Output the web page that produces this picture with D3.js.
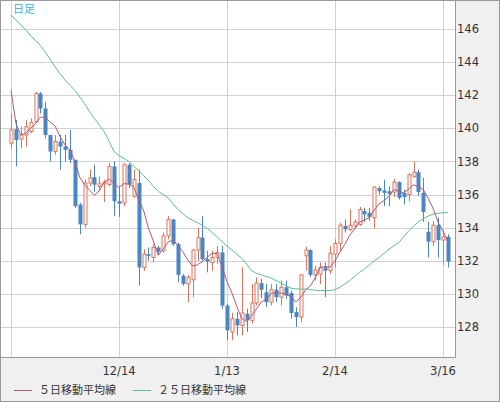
<!DOCTYPE html>
<html>
<head>
<meta charset="utf-8">
<script src="https://cdn.jsdelivr.net/npm/d3@7"></script>
<style>
html,body{margin:0;padding:0;background:#fff;}
svg{display:block;}
</style>
</head>
<body>
<svg id="chart" width="500" height="402"></svg>
<script>
const dates = [
"11/14","11/15","11/16","11/17","11/18",
"11/21","11/22","11/23","11/24","11/25",
"11/28","11/29","11/30","12/1","12/2",
"12/5","12/6","12/7","12/8","12/9",
"12/12","12/13","12/14","12/15","12/16",
"12/19","12/20","12/21","12/22","12/23",
"12/26","12/27","12/28","12/29","12/30",
"1/2","1/3","1/4","1/5","1/6",
"1/9","1/10","1/11","1/12","1/13",
"1/16","1/17","1/18","1/19","1/20",
"1/23","1/24","1/25","1/26","1/27",
"1/30","1/31","2/1","2/2","2/3",
"2/6","2/7","2/8","2/9","2/10",
"2/13","2/14","2/15","2/16","2/17",
"2/20","2/21","2/22","2/23","2/24",
"2/27","2/28","3/1","3/2","3/3",
"3/6","3/7","3/8","3/9","3/10",
"3/13","3/14","3/15","3/16","3/17"];

const open = [
139.1,139.95,139.35,139.6,139.8,
140.4,142.1,141.2,139.6,138.6,
139.2,138.9,138.7,138.1,135.4,
134.2,136.7,137.05,136.5,136.65,
136.6,137.7,135.6,135.5,137.8,
135.9,136.7,131.6,132.4,132.2,
132.8,132.6,133.5,134.5,133.0,
131.1,130.6,130.85,132.65,133.4,
132.1,131.9,132.2,132.5,129.3,
127.7,128.5,128.1,128.8,128.4,
129.45,130.65,130.1,129.5,130.25,
129.8,130.4,130.05,128.9,128.6,
132.3,132.65,131.15,131.2,131.6,
131.4,132.4,133.05,134.1,133.9,
134.1,134.2,135.0,134.9,134.6,
136.4,136.25,136.2,136.15,136.75,
136.1,136.0,137.1,137.35,136.1,
133.75,133.15,134.15,133.25,133.45];

const high = [
140.9,140.5,140.1,140.5,140.6,
142.2,142.2,141.6,139.6,139.6,
139.6,139.6,139.9,138.1,135.5,
136.9,137.5,137.8,137.1,136.9,
137.9,138.0,136.5,137.9,137.9,
137.5,137.5,132.7,132.8,133.0,
132.9,133.7,134.7,134.5,133.1,
131.2,131.15,132.7,134.0,134.7,
132.6,132.6,132.9,132.9,129.4,
128.85,128.9,131.6,129.1,130.6,
131.0,130.9,130.6,130.6,130.6,
130.8,130.8,130.2,129.2,131.2,
132.85,132.7,131.7,131.9,131.9,
132.9,133.3,134.3,134.5,135.1,
134.5,135.25,135.2,135.2,136.5,
136.5,136.9,136.5,136.95,136.8,
136.3,137.3,138.0,137.5,137.0,
134.35,134.4,134.6,133.85,133.6];

const low = [
138.8,137.7,138.8,138.9,139.7,
140.3,140.9,139.4,138.0,138.4,
137.5,138.0,137.9,135.2,133.6,
134.0,136.5,136.15,136.2,135.55,
136.5,134.7,134.65,135.3,136.4,
135.8,130.5,131.4,132.0,131.9,
132.4,132.5,133.3,132.9,130.7,
130.5,129.5,129.8,132.0,132.0,
131.3,131.4,131.8,129.1,127.2,
127.2,127.5,127.5,127.7,128.2,
129.3,129.75,129.2,129.3,129.5,
129.3,129.7,128.5,128.0,128.3,
131.4,131.0,130.8,130.6,129.8,
131.2,131.6,132.6,133.7,133.8,
133.95,134.1,134.35,134.4,133.95,
136.0,135.3,135.3,135.85,135.7,
135.4,135.6,137.0,135.9,134.35,
132.2,132.9,132.2,131.75,131.6];

const close = [
139.9,139.3,139.6,140.1,140.35,
142.1,141.2,139.6,138.6,139.2,
138.9,138.7,138.1,135.3,134.2,
136.7,137.0,136.6,136.65,136.75,
137.7,135.6,135.45,137.8,136.6,
136.9,131.6,132.4,132.3,132.8,
132.55,133.5,134.5,133.0,131.15,
130.6,131.0,132.65,133.4,132.1,
131.95,132.2,132.5,129.3,127.8,
128.5,128.1,128.85,128.4,129.45,
130.65,130.25,129.5,130.25,129.8,
130.4,129.9,128.85,128.6,131.15,
132.65,131.15,131.45,131.6,131.4,
132.45,133.05,134.15,133.9,134.15,
134.35,135.1,134.8,134.65,136.45,
136.2,136.1,136.05,136.75,135.8,
135.85,137.2,137.35,136.15,134.95,
133.15,134.15,133.25,133.45,131.95];

const ma5 = [
142.3,140.3,139.6,139.7,140.0,
140.29,140.67,140.67,140.37,140.14,
139.5,139.0,138.7,138.04,137.04,
136.6,136.26,135.96,136.23,136.74,
136.94,136.66,136.43,136.66,136.63,
136.47,135.67,135.06,133.96,133.2,
132.33,132.71,133.13,133.27,132.94,
132.55,132.05,131.68,131.76,131.95,
132.22,132.46,132.43,131.61,130.75,
130.06,129.24,128.51,128.33,128.66,
129.09,129.52,129.65,130.02,130.09,
130.04,129.97,129.84,129.51,129.78,
130.23,130.48,131.0,131.6,131.65,
131.61,131.99,132.53,132.99,133.54,
133.92,134.33,134.46,134.61,135.07,
135.44,135.64,135.89,136.31,136.18,
136.11,136.33,136.59,136.47,136.3,
135.76,135.15,134.33,133.79,133.19];

const ma25 = [
146.85,146.55,146.25,145.95,145.6,
145.3,145.0,144.6,144.15,143.7,
143.3,142.92,142.6,142.3,141.9,
141.5,141.0,140.6,140.2,139.8,
139.2,138.6,138.35,138.2,138.0,
137.7,137.45,137.15,136.85,136.5,
136.2,136.0,135.8,135.45,135.1,
134.85,134.6,134.45,134.3,134.15,
133.95,133.7,133.45,133.15,132.9,
132.65,132.4,132.15,131.8,131.4,
131.25,131.15,131.05,130.95,130.8,
130.65,130.5,130.35,130.3,130.3,
130.3,130.25,130.22,130.2,130.2,
130.2,130.25,130.4,130.6,130.8,
131.05,131.3,131.5,131.75,132.0,
132.2,132.45,132.7,132.9,133.1,
133.45,133.8,134.1,134.35,134.55,
134.7,134.82,134.87,134.9,134.92];

const yTicks = [128,130,132,134,136,138,140,142,144,146];
const gridDates = ["11/14","12/14","1/13","2/14","3/16"];
const tickLabels = ["12/14","1/13","2/14","3/16"];
const title = "日足";
const legendNames = ["５日移動平均線","２５日移動平均線"];

const W = 500, H = 402;
const plotR = 455, plotB = 357;
const svg = d3.select("#chart");

const x = d3.scalePoint().domain(dates).range([11, 447.9]);
const y = d3.scaleLinear().domain([128,146]).range([327,29]);

// backgrounds
svg.append("rect").attr("x",0).attr("y",0).attr("width",W).attr("height",H).attr("fill","#f0f0f0");
svg.append("rect").attr("x",0.5).attr("y",0.5).attr("width",plotR).attr("height",plotB).attr("fill","#fff");

// grid
const grid = svg.append("g");
grid.selectAll("line.h").data(yTicks).join("line")
  .attr("x1",1).attr("x2",plotR).attr("y1",d=>Math.round(y(d))+0.5).attr("y2",d=>Math.round(y(d))+0.5)
  .attr("stroke","#d2d2d2").attr("stroke-width",1);
grid.selectAll("line.v").data(gridDates).join("line")
  .attr("x1",d=>Math.round(x(d))+0.5).attr("x2",d=>Math.round(x(d))+0.5).attr("y1",1).attr("y2",plotB)
  .attr("stroke","#d2d2d2").attr("stroke-width",1);

// candles
const data = dates.map((d,i)=>({d, o:open[i], h:high[i], l:low[i], c:close[i]}));
const upCol = "#e0735c", dnCol = "#4a86bf";
const cg = svg.append("g");
cg.selectAll("line.w").data(data).join("line")
  .attr("x1",d=>Math.round(x(d.d))+0.5).attr("x2",d=>Math.round(x(d.d))+0.5)
  .attr("y1",d=>y(d.h)).attr("y2",d=>y(d.l))
  .attr("stroke",d=>d.c>=d.o?upCol:dnCol).attr("stroke-width",1);
cg.selectAll("rect.b").data(data).join("rect")
  .attr("x",d=>d.c>=d.o?Math.round(x(d.d))-1:Math.round(x(d.d))-1.5)
  .attr("width",d=>d.c>=d.o?3:4)
  .attr("y",d=>y(Math.max(d.o,d.c)))
  .attr("height",d=>Math.max(1,Math.abs(y(d.o)-y(d.c))))
  .attr("fill",d=>d.c>=d.o?"#fff":dnCol)
  .attr("stroke",d=>d.c>=d.o?upCol:"none")
  .attr("stroke-width",1);

// moving averages
const line = d3.line().x((v,i)=>x(dates[i])).y(v=>y(v)).curve(d3.curveLinear);
svg.append("path").datum(ma25).attr("d",line).attr("fill","none").attr("stroke","#5cc090").attr("stroke-width",1);
svg.append("path").datum(ma5).attr("d",line).attr("fill","none").attr("stroke","#b25873").attr("stroke-width",1);

// plot border
svg.append("line").attr("x1",plotR+0.5).attr("x2",plotR+0.5).attr("y1",0).attr("y2",plotB+0.5).attr("stroke","#999");
svg.append("line").attr("x1",0).attr("x2",plotR+0.5).attr("y1",plotB+0.5).attr("y2",plotB+0.5).attr("stroke","#999");
svg.append("rect").attr("x",0.5).attr("y",0.5).attr("width",W-1).attr("height",H-1).attr("fill","none").attr("stroke","#999");

// y axis labels
svg.append("g").selectAll("text").data(yTicks).join("text")
  .attr("x",457).attr("y",d=>y(d)).attr("dy","0.36em")
  .attr("font-family","DejaVu Sans, sans-serif").attr("font-size","11.5px").attr("fill","#333")
  .text(d=>d);

// x axis labels
svg.append("g").selectAll("text").data(tickLabels).join("text")
  .attr("x",d=>x(d)).attr("y",371).attr("dy","0.36em").attr("text-anchor","middle")
  .attr("font-family","DejaVu Sans, sans-serif").attr("font-size","11.5px").attr("fill","#333")
  .text(d=>d);

// title
svg.append("text").attr("x",13).attr("y",9).attr("dy","0.36em")
  .attr("font-family","Noto Sans CJK JP, sans-serif").attr("font-size","11px").attr("fill","#3aaee0")
  .text(title);

// legend
const lg = svg.append("g");
const legCols = ["#b25873","#5cc090"];
const legX = [14,133];
legendNames.forEach((n,i)=>{
  lg.append("line").attr("x1",legX[i]).attr("x2",legX[i]+18).attr("y1",390.5).attr("y2",390.5).attr("stroke",legCols[i]);
  lg.append("text").attr("x",legX[i]+25).attr("y",390).attr("dy","0.36em")
    .attr("font-family","Noto Sans CJK JP, sans-serif").attr("font-size","11px").attr("fill","#333").text(n);
});
</script>
</body>
</html>
